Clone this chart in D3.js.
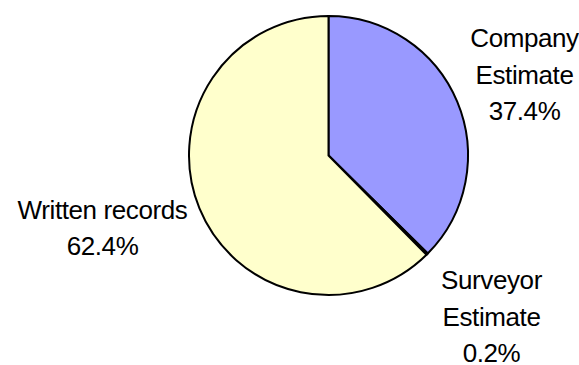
<!DOCTYPE html>
<html>
<head>
<meta charset="utf-8">
<script src="https://cdn.jsdelivr.net/npm/d3@7"></script>
<style>
  html, body { margin: 0; padding: 0; background: #fff; }
  svg { display: block; }
  text { font-family: "Liberation Sans", Arial, sans-serif; fill: #000; }
</style>
</head>
<body>
<svg id="chart" width="579" height="365"></svg>
<script>
// Share of each source, in percent, going clockwise from 12 o'clock
const categories = ["Company Estimate", "Surveyor Estimate", "Written records"];
const shares = [37.4, 0.2, 62.4];
const labelLines = [["Company", "Estimate"], ["Surveyor", "Estimate"], ["Written records"]];
const sliceColors = ["#9999FF", "#993366", "#FFFFCC"];

const width = 579, height = 365;
const cx = 328.5, cy = 155.5, radius = 139.5;

const svg = d3.select("#chart");
const g = svg.append("g").attr("transform", `translate(${cx},${cy})`);

const pie = d3.pie().sort(null).value(d => d.value);
const arcs = pie(categories.map((c, i) => ({ name: c, value: shares[i], lines: labelLines[i], color: sliceColors[i] })));

const arc = d3.arc().innerRadius(0).outerRadius(radius);

g.selectAll("path.slice")
  .data(arcs)
  .join("path")
  .attr("class", "slice")
  .attr("d", arc)
  .attr("fill", d => d.data.color)
  .attr("stroke", "#000")
  .attr("stroke-width", 2)
  .attr("stroke-linejoin", "round");

// Label anchors (center of the text block, relative to the pie center)
const labelPos = [
  { x: 196, y: -81 },   // Company Estimate
  { x: 163, y: 161 },   // Surveyor Estimate
  { x: -226, y: 72 }    // Written records
];

const fontSize = 26, lineGap = 36.5;

arcs.forEach((d, i) => {
  const lines = d.data.lines.concat([d3.format(".1f")(d.data.value) + "%"]);
  const n = lines.length;
  const t = g.append("text")
    .attr("text-anchor", "middle")
    .style("font-size", fontSize + "px")
    .style("letter-spacing", "-0.4px");
  lines.forEach((ln, k) => {
    t.append("tspan")
      .attr("x", labelPos[i].x)
      .attr("y", labelPos[i].y + (k - (n - 1) / 2) * lineGap + fontSize * 0.36)
      .text(ln);
  });
});
</script>
</body>
</html>
